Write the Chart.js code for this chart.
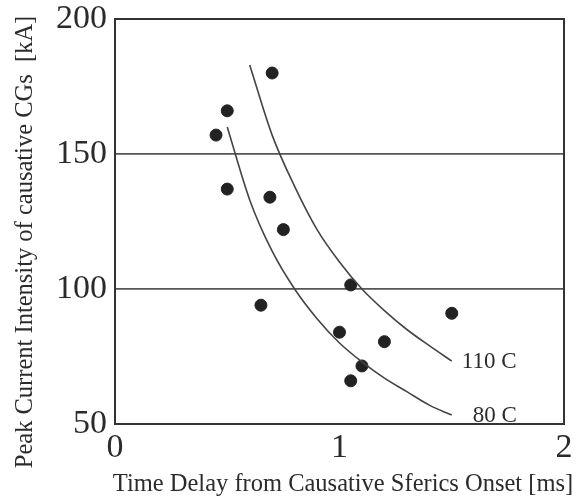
<!DOCTYPE html>
<html>
<head>
<meta charset="utf-8">
<script src="https://cdn.jsdelivr.net/npm/chart.js@4.4.1/dist/chart.umd.min.js"></script>
<style>
  html, body { margin: 0; padding: 0; background: #fff; }
  #wrap { width: 577px; height: 498px; }
</style>
</head>
<body>
<div id="wrap"><canvas id="peakChart"></canvas></div>
<script>
// observed flashes: time delay [ms] vs peak current [kA]
const delayMs = [0.70, 0.50, 0.45, 0.50, 0.69, 0.75, 0.65, 1.05, 1.00, 1.10, 1.05, 1.20, 1.50];
const peakKA = [180, 166, 157, 137, 134, 122, 94, 101.5, 84, 71.5, 66, 80.5, 91];

// charge-moment curves
const curve110X = [0.60, 0.70, 0.80, 0.90, 1.00, 1.10, 1.20, 1.30, 1.40, 1.50];
const curve110Y = [183, 157, 138, 122, 110, 100, 92, 85, 79, 73.3];
const curve80X = [0.50, 0.60, 0.70, 0.80, 0.90, 1.00, 1.10, 1.20, 1.30, 1.40, 1.50];
const curve80Y = [160, 133, 114, 100, 89, 80, 73, 67, 62, 57, 53.3];

const curveLabels = ["110 C", "80 C"];

const xTicks = [0, 1, 2];
const yTicks = [50, 100, 150, 200];

const xTitle = "Time Delay from Causative Sferics Onset [ms]";
const yTitle = "Peak Current Intensity of causative CGs  [kA]";

const toPoints = (xs, ys) => xs.map((x, i) => ({ x: x, y: ys[i] }));

const ink = "#2b2b2b";
const serif = "'Liberation Serif', 'DejaVu Serif', serif";

// frame around plot, curve labels and axis titles
const framePlugin = {
  id: "frame",
  afterDatasetsDraw(chart) {
    const { ctx, chartArea: a, scales } = chart;
    ctx.save();
    ctx.strokeStyle = "#333";
    ctx.lineWidth = 2;
    ctx.strokeRect(a.left, a.top, a.right - a.left, a.bottom - a.top);

    ctx.fillStyle = ink;
    ctx.font = "23px " + serif;
    ctx.textBaseline = "alphabetic";
    ctx.textAlign = "left";
    const ends = [
      [curve110X[curve110X.length - 1], curve110Y[curve110Y.length - 1]],
      [curve80X[curve80X.length - 1], curve80Y[curve80Y.length - 1]],
    ];
    const offs = [[10, 7], [21, 7]];
    ends.forEach((e, i) => {
      const px = scales.x.getPixelForValue(e[0]) + offs[i][0];
      const py = scales.y.getPixelForValue(e[1]) + offs[i][1];
      ctx.fillText(curveLabels[i], px, py);
    });

    // axis titles
    ctx.font = "24.5px " + serif;
    ctx.textAlign = "center";
    ctx.fillText(xTitle, 343, 491);
    ctx.translate(32, 242);
    ctx.rotate(-Math.PI / 2);
    ctx.fillText(yTitle, 0, 0);
    ctx.restore();
  },
};

new Chart(document.getElementById("peakChart"), {
  type: "scatter",
  data: {
    datasets: [
      {
        label: "110 C",
        type: "line",
        data: toPoints(curve110X, curve110Y),
        borderColor: "#444",
        borderWidth: 1.6,
        pointRadius: 0,
        cubicInterpolationMode: "monotone",
        fill: false,
      },
      {
        label: "80 C",
        type: "line",
        data: toPoints(curve80X, curve80Y),
        borderColor: "#444",
        borderWidth: 1.6,
        pointRadius: 0,
        cubicInterpolationMode: "monotone",
        fill: false,
      },
      {
        label: "CGs",
        data: toPoints(delayMs, peakKA),
        backgroundColor: "#222",
        borderColor: "#222",
        pointRadius: 6,
        pointHoverRadius: 6,
      },
    ],
  },
  options: {
    responsive: true,
    maintainAspectRatio: false,
    animation: false,
    layout: { padding: { top: 19, right: 13, left: 0, bottom: 0 } },
    plugins: {
      legend: { display: false },
      tooltip: { enabled: false },
    },
    scales: {
      x: {
        type: "linear",
        min: 0,
        max: 2,
        afterBuildTicks: (s) => { s.ticks = xTicks.map((v) => ({ value: v })); },
        afterFit: (s) => { s.height = 74; s.paddingLeft = 0; s.paddingRight = 0; },
        ticks: {
          color: ink,
          font: { family: serif, size: 34 },
          padding: 4,
        },
        grid: { display: false, drawTicks: false },
        border: { display: false },
      },
      y: {
        type: "linear",
        min: 50,
        max: 200,
        afterBuildTicks: (s) => { s.ticks = yTicks.map((v) => ({ value: v })); },
        afterFit: (s) => { s.width = 115; s.paddingTop = 0; s.paddingBottom = 0; },
        ticks: {
          color: ink,
          font: { family: serif, size: 34 },
          padding: 8,
        },
        grid: {
          drawTicks: false,
          lineWidth: 1.8,
          color: (c) => (c.tick && (c.tick.value === 100 || c.tick.value === 150) ? "#555" : "rgba(0,0,0,0)"),
        },
        border: { display: false },
      },
    },
  },
  plugins: [framePlugin],
});
</script>
</body>
</html>
